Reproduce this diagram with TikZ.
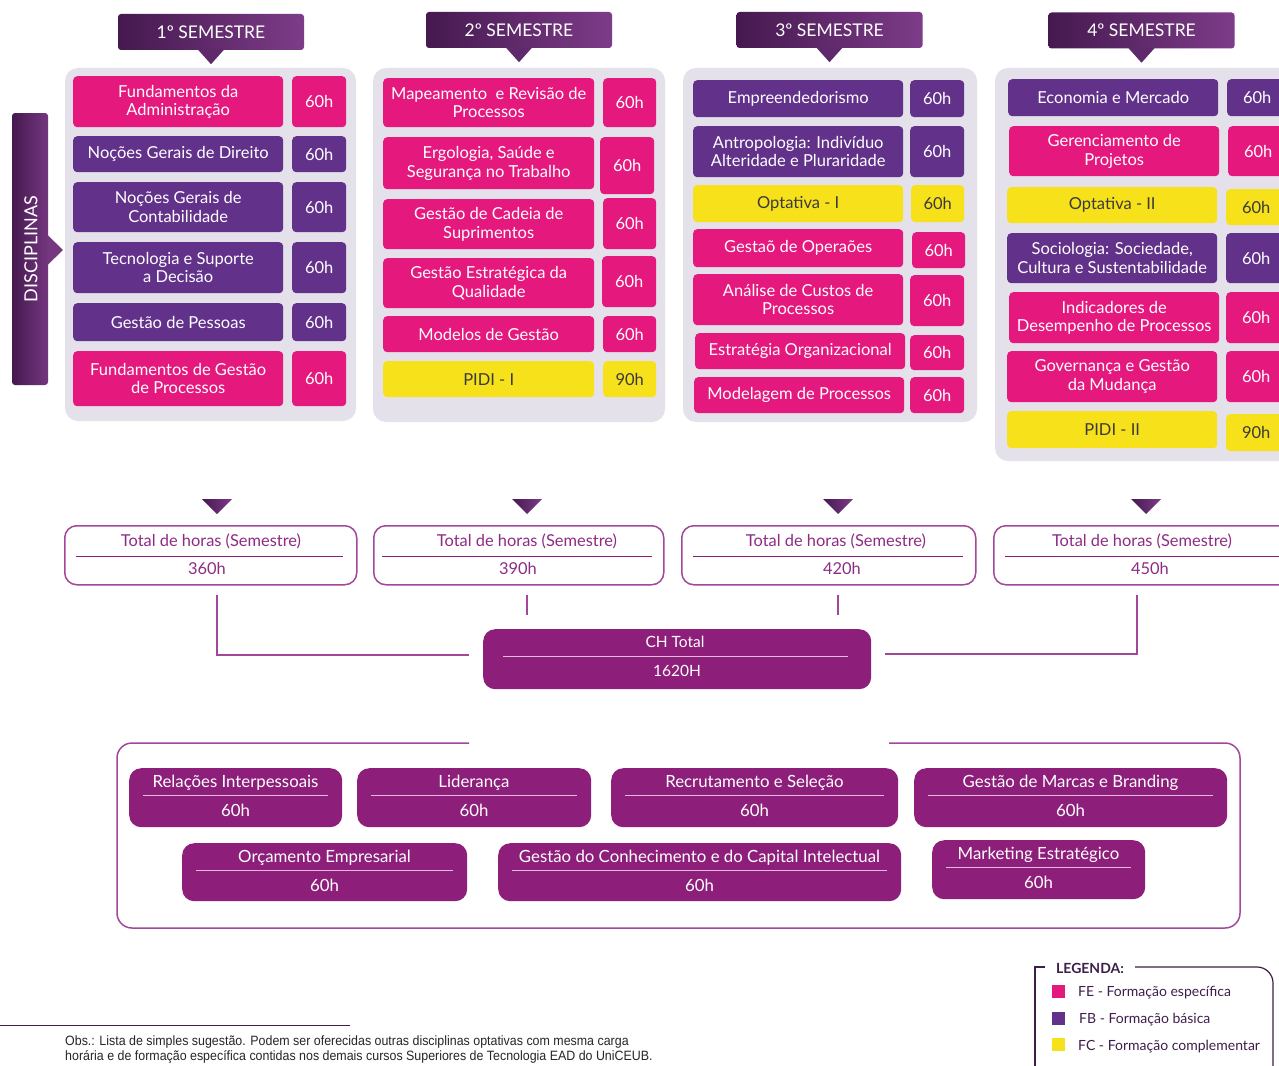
\documentclass[tikz,border=0pt]{standalone}
\usepackage{fontspec}
\setmainfont{Lato}
\newfontfamily\obsfont{Liberation Sans}[FakeStretch=0.92]
\usetikzlibrary{calc}
\definecolor{cfe}{HTML}{E5187E}
\definecolor{cfb}{HTML}{62318A}
\definecolor{cfc}{HTML}{F6E11B}
\definecolor{cfctext}{HTML}{3A3A3A}
\definecolor{cch}{HTML}{8D1F7B}
\definecolor{cpanel}{HTML}{E4E1EB}
\definecolor{chd1}{HTML}{45194F}
\definecolor{chd2}{HTML}{7D3C88}
\definecolor{chdm}{HTML}{5E2A6B}
\definecolor{ctot}{HTML}{A3479A}
\definecolor{ctottxt}{HTML}{8E2C84}
\definecolor{cleg}{HTML}{3E1E4A}
\definecolor{crule}{HTML}{E6B8DC}
\newcommand\sfnt{\fontsize{16.5}{18.5}\selectfont}
\newcommand\tfnt{\fontsize{16.4}{18.5}\selectfont}
\newcommand\efnt{\fontsize{16.8}{18.5}\selectfont}
\newcommand\cfnt{\fontsize{15.5}{17.5}\selectfont}
\newcommand\hfnt{\fontsize{17.5}{20}\selectfont}
\newcommand\lfnt{\fontsize{14}{16}\selectfont}
\newcommand\subj[7]{\node[#1, minimum width=#5pt, minimum height=#6pt] (#2) at (#3,#4) {#7};}
\newcommand\semhdr[4]{%
  \node[hdr] (#1) at (#2,#3) {#4};
  \fill[chdm] ($(#1.south)+(-13,-0.5)$) -- ($(#1.south)+(13,-0.5)$) -- ($(#1.south)+(0,14)$) -- cycle;}
\newcommand\downtri[2]{\shade[left color=chd1, right color=chd2] (#1-15,#2) -- (#1+15,#2) -- (#1,#2+15) -- cycle;}
\newcommand\elbox[6]{% name x1 y1 x2 y2 title
  \node[chbox, minimum width=#4pt-#2pt, minimum height=#5pt-#3pt] (#1) at (#2,#3) {};
  \node[eltxt] (#1a) at ({(#2+#4)/2},#3+15) {#6};
  \draw[chrule] (#2+14,#3+27) -- (#4-14,#3+27);
  \node[eltxt] (#1b) at ({(#2+#4)/2},#3+42) {60h};}
\begin{document}
\begin{tikzpicture}[x=1pt,y=-1pt,
  subjbox/.style={anchor=north west, inner sep=0pt, rounded corners=4pt, align=center, text=white, font=\sfnt},
  fe/.style={subjbox, fill=cfe},
  fb/.style={subjbox, fill=cfb},
  fc/.style={subjbox, fill=cfc, text=cfctext},
  panelbg/.style={fill=cpanel, rounded corners=13pt},
  hdr/.style={left color=chd1, right color=chd2, rounded corners=3pt, text=white, font=\hfnt, minimum width=186pt, minimum height=36pt, inner sep=0pt},
  tot/.style={draw=ctot, line width=1.5pt, rounded corners=12pt, anchor=north west, inner sep=0pt},
  tottxt/.style={text=ctottxt, font=\tfnt, inner sep=0pt},
  totrule/.style={draw=cch, line width=1pt},
  conn/.style={draw=ctot, line width=1.5pt},
  chbox/.style={fill=cch, rounded corners=12pt, anchor=north west, inner sep=0pt},
  chtxt/.style={text=white, font=\cfnt, inner sep=0pt},
  eltxt/.style={text=white, font=\efnt, inner sep=0pt},
  chrule/.style={draw=crule, line width=1pt},
  frame/.style={draw=ctot, line width=1.5pt, rounded corners=15pt},
  legtxt/.style={text=cleg, font=\lfnt, anchor=west, inner sep=0pt},
]
\useasboundingbox (0,0) rectangle (1279,1065);
\fill[white] (0,0) rectangle (1279,1065);

% DISCIPLINAS side bar
\shade[left color=chd1, right color=chd2!85!chd1, rounded corners=3pt] (12,113) rectangle (48,385);
\fill[chd2!85!chd1] (47.5,235) -- (63,250) -- (47.5,265) -- cycle;
\node[rotate=90, text=white, font=\fontsize{18}{20}\selectfont, inner sep=0pt] (disc) at (31,249) {DISCIPLINAS};

% panels
\fill[panelbg] (65,68) rectangle (356,421);
\fill[panelbg] (373,68) rectangle (665,422);
\fill[panelbg] (683,68) rectangle (977,422);
\fill[panelbg] (995,68) rectangle (1310,461);

% headers
\semhdr{h1}{211}{32}{1º SEMESTRE}
\semhdr{h2}{519}{30}{2º SEMESTRE}
\semhdr{h3}{829.5}{30}{3º SEMESTRE}
\semhdr{h4}{1141.5}{30.5}{4º SEMESTRE}

% semester 1
\subj{fe}{s1a}{73}{76}{210}{51}{Fundamentos da\\Administração}
\subj{fe}{s1ah}{292}{76}{54}{51}{60h}
\subj{fb}{s1b}{73}{136}{210}{36}{Noções Gerais de Direito}
\subj{fb}{s1bh}{292}{136}{54}{36}{60h}
\subj{fb}{s1c}{73}{182}{210}{50}{Noções Gerais de\\Contabilidade}
\subj{fb}{s1ch}{292}{182}{54}{50}{60h}
\subj{fb}{s1d}{73}{242}{210}{51}{Tecnologia e Suporte\\a Decisão}
\subj{fb}{s1dh}{292}{242}{54}{51}{60h}
\subj{fb}{s1e}{73}{303}{210}{38}{Gestão de Pessoas}
\subj{fb}{s1eh}{292}{303}{54}{38}{60h}
\subj{fe}{s1f}{73}{351}{210}{55}{Fundamentos de Gestão\\de Processos}
\subj{fe}{s1fh}{292}{351}{54}{55}{60h}

% semester 2
\subj{fe}{s2a}{383}{78}{211}{49}{Mapeamento~ e Revisão de\\Processos}
\subj{fe}{s2ah}{603}{78}{53}{49}{60h}
\subj{fe}{s2b}{383}{137}{211}{52}{Ergologia, Saúde e\\Segurança no Trabalho}
\subj{fe}{s2bh}{600}{137}{54}{57}{60h}
\subj{fe}{s2c}{383}{199}{211}{50}{Gestão de Cadeia de\\Suprimentos}
\subj{fe}{s2ch}{603}{198}{53}{51}{60h}
\subj{fe}{s2d}{383}{258}{211}{50}{Gestão Estratégica da\\Qualidade}
\subj{fe}{s2dh}{602}{256}{54}{51}{60h}
\subj{fe}{s2e}{383}{316}{211}{36}{Modelos de Gestão}
\subj{fe}{s2eh}{603}{316}{53}{36}{60h}
\subj{fc}{s2f}{383}{361}{211}{36}{PIDI - I}
\subj{fc}{s2fh}{603}{361}{53}{36}{90h}

% semester 3
\subj{fb}{s3a}{693}{80}{210}{37}{Empreendedorismo}
\subj{fb}{s3ah}{910}{80}{54}{37}{60h}
\subj{fb}{s3b}{693}{126}{210}{51}{Antropologia: Indivíduo\\Alteridade e Pluraridade}
\subj{fb}{s3bh}{910}{126}{54}{51}{60h}
\subj{fc}{s3c}{693}{185}{210}{37}{Optativa - I}
\subj{fc}{s3ch}{911}{185}{53}{37}{60h}
\subj{fe}{s3d}{693}{229}{210}{38}{Gestaõ de Operaões}
\subj{fe}{s3dh}{912}{232}{53}{36}{60h}
\subj{fe}{s3e}{693}{274}{210}{51}{Análise de Custos de\\Processos}
\subj{fe}{s3eh}{910}{275}{54}{51}{60h}
\subj{fe}{s3f}{695}{333}{210}{36}{Estratégia Organizacional}
\subj{fe}{s3fh}{910}{335}{54}{35}{60h}
\subj{fe}{s3g}{694}{377}{210}{36}{Modelagem de Processos}
\subj{fe}{s3gh}{910}{377}{54}{36}{60h}

% semester 4
\subj{fb}{s4a}{1008}{79}{210}{37}{Economia e Mercado}
\subj{fb}{s4ah}{1227}{79}{60}{37}{60h}
\subj{fe}{s4b}{1009}{126}{210}{50}{Gerenciamento de\\Projetos}
\subj{fe}{s4bh}{1228}{126}{60}{50}{60h}
\subj{fc}{s4c}{1007}{187}{210}{36}{Optativa - II}
\subj{fc}{s4ch}{1226}{189}{60}{36}{60h}
\subj{fb}{s4d}{1007}{233}{210}{50}{Sociologia: Sociedade,\\Cultura e Sustentabilidade}
\subj{fb}{s4dh}{1226}{233}{60}{50}{60h}
\subj{fe}{s4e}{1009}{292}{210}{51}{Indicadores de\\Desempenho de Processos}
\subj{fe}{s4eh}{1226}{292}{60}{51}{60h}
\subj{fe}{s4f}{1007}{351}{210}{51}{Governança e Gestão\\da Mudança}
\subj{fe}{s4fh}{1226}{351}{60}{51}{60h}
\subj{fc}{s4g}{1007}{411}{210}{37}{PIDI - II}
\subj{fc}{s4gh}{1226}{414}{60}{37}{90h}

% down triangles
\downtri{217}{499}
\downtri{527}{499}
\downtri{838}{499}
\downtri{1146}{499}

% semester totals
\node[tot, minimum width=292pt, minimum height=59pt] (t1) at (64,525) {};
\node[tottxt] (t1a) at (211,541) {Total de horas (Semestre)};
\draw[totrule] (76,556) -- (343,556);
\node[tottxt] (t1b) at (207,569) {360h};

\node[tot, minimum width=290pt, minimum height=59pt] (t2) at (373,525) {};
\node[tottxt] (t2a) at (527,541) {Total de horas (Semestre)};
\draw[totrule] (382,556) -- (652,556);
\node[tottxt] (t2b) at (518,569) {390h};

\node[tot, minimum width=294pt, minimum height=59pt] (t3) at (681,525) {};
\node[tottxt] (t3a) at (836,541) {Total de horas (Semestre)};
\draw[totrule] (693,556) -- (963,556);
\node[tottxt] (t3b) at (842,569) {420h};

\node[tot, minimum width=298pt, minimum height=59pt] (t4) at (993,525) {};
\node[tottxt] (t4a) at (1142,541) {Total de horas (Semestre)};
\draw[totrule] (1005,556) -- (1279,556);
\node[tottxt] (t4b) at (1150,569) {450h};

% CH total
\node[chbox, minimum width=388pt, minimum height=60pt] (ch) at (483,629) {};
\node[chtxt] (cha) at (675,642) {CH Total};
\draw[chrule] (503,656) -- (848,656);
\node[chtxt] (chb) at (677,671) {1620H};

% connectors
\coordinate (j1a) at (217,595);
\coordinate (j1b) at (469,655);
\coordinate (j2a) at (527,595);
\coordinate (j2b) at (527,615);
\coordinate (j3a) at (838,595);
\coordinate (j3b) at (838,615);
\coordinate (j4a) at (1137,595);
\coordinate (j4b) at (885,654);
\draw[conn] (j1a) |- (j1b);
\draw[conn] (j2a) -- (j2b);
\draw[conn] (j3a) -- (j3b);
\draw[conn] (j4a) |- (j4b);

% electives frame
\draw[frame] (469,743) -- (117,743) -- (117,928) -- (1240,928) -- (1240,743) -- (889,743);

\elbox{e1}{129}{768}{342}{827}{Relações Interpessoais}
\elbox{e2}{357}{768}{591}{827}{Liderança}
\elbox{e3}{611}{768}{898}{827}{Recrutamento e Seleção}
\elbox{e4}{914}{768}{1227}{827}{Gestão de Marcas e Branding}
\elbox{e5}{182}{843}{467}{901}{Orçamento Empresarial}
\elbox{e6}{498}{843}{901}{901}{Gestão do Conhecimento e do Capital Intelectual}
\elbox{e7}{932}{840}{1145}{899}{Marketing Estratégico}

% legend
\draw[cleg, line width=1.2pt] (1045,967) -- (1035,967) -- (1035,1070);
\draw[cleg, line width=1.2pt, rounded corners=16pt] (1135,967) -- (1273,967) -- (1273,1070);
\node[text=cleg, font=\lfnt\bfseries, inner sep=0pt] (legt) at (1090,968) {LEGENDA:};
\fill[cfe] (1052,985) rectangle (1065,998);
\node[legtxt] (lfe) at (1078,993) {FE - Formação específica};
\fill[cfb] (1052,1012) rectangle (1065,1025);
\node[legtxt] (lfb) at (1079,1020) {FB - Formação básica};
\fill[cfc] (1052,1038) rectangle (1065,1051);
\node[legtxt] (lfc) at (1078,1047) {FC - Formação complementar};

% footnote
\draw[cleg, line width=1pt] (0,1025) -- (350,1025);
\node[anchor=north west, align=left, text=black!85, font=\obsfont\fontsize{13.5}{15}\selectfont, inner sep=0pt] (obs) at (65,1036) {Obs.: Lista de simples sugestão. Podem ser oferecidas outras disciplinas optativas com mesma carga\\horária e de formação específica contidas nos demais cursos Superiores de Tecnologia EAD do UniCEUB.};
\end{tikzpicture}
\end{document}
